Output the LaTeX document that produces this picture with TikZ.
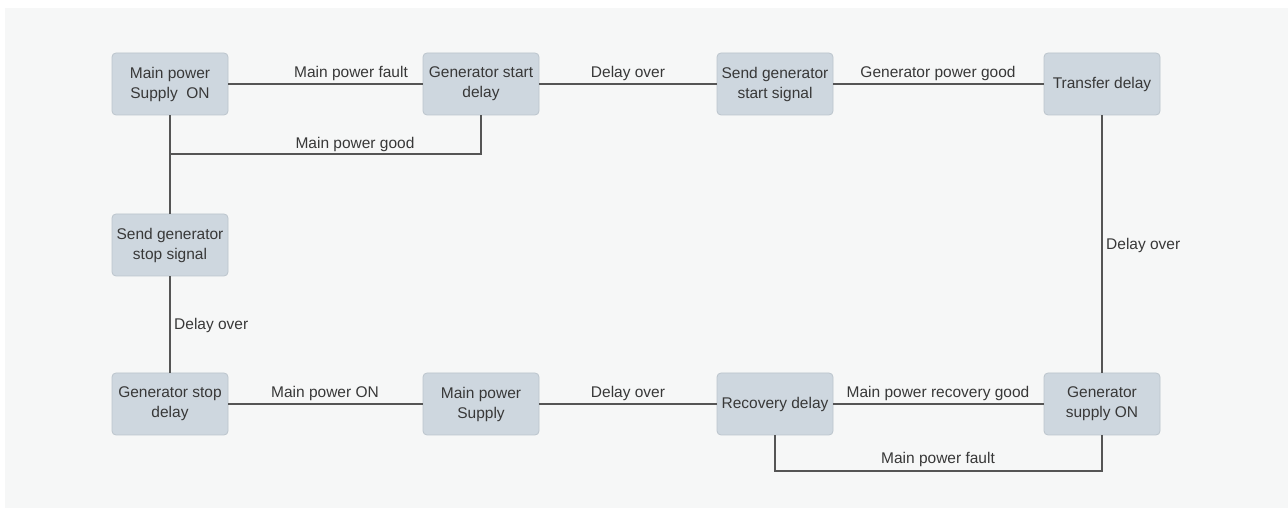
\documentclass[tikz,border=0pt]{standalone}
\usepackage{fontspec}
\setmainfont{Liberation Sans}
\definecolor{bgc}{HTML}{F6F7F7}
\definecolor{boxfill}{HTML}{CED7DF}
\definecolor{boxline}{HTML}{BCC5CD}
\definecolor{linec}{HTML}{555555}
\definecolor{txt}{HTML}{383838}
\begin{document}
\begin{tikzpicture}[x=1pt,y=-1pt,
  stbox/.style={draw=boxline,line width=0.8pt,fill=boxfill,rounded corners=4pt,
    minimum width=116pt,minimum height=62pt,inner sep=1pt,align=center,
    text=txt,font=\fontsize{15.5}{20}\selectfont},
  conn/.style={draw=linec,line width=1.6pt},
  lbl/.style={text=txt,font=\fontsize{15.5}{20}\selectfont,inner sep=0pt,anchor=base}]
\useasboundingbox (0,0) rectangle (1288,510);
\fill[bgc] (5,8) rectangle (1288,508);
% boxes
\node[stbox] (mps) at (170,84) {Main power\\Supply\ \ ON};
\node[stbox] (gsd) at (481,84) {Generator start\\delay};
\node[stbox] (sgs) at (775,84) {Send generator\\start signal};
\node[stbox] (td) at (1102,84) {Transfer delay};
\node[stbox] (stopsig) at (170,245) {Send generator\\stop signal};
\node[stbox] (gstopd) at (170,404) {Generator stop\\delay};
\node[stbox] (mpsup) at (481,404) {Main power\\Supply};
\node[stbox] (rd) at (775,404) {Recovery delay};
\node[stbox] (gso) at (1102,404) {Generator\\supply ON};
\coordinate (g1) at (170,154);
\coordinate (f1) at (775,471);
% connectors
\draw[conn] (mps.east) -- (gsd.west);
\draw[conn] (gsd.east) -- (sgs.west);
\draw[conn] (sgs.east) -- (td.west);
\draw[conn] (td.south) -- (gso.north);
\draw[conn] (gso.west) -- (rd.east);
\draw[conn] (rd.west) -- (mpsup.east);
\draw[conn] (mpsup.west) -- (gstopd.east);
\draw[conn] (gstopd.north) -- (stopsig.south);
\draw[conn] (stopsig.north) -- (mps.south);
\draw[conn] (gsd.south) |- (g1);
\draw[conn] (rd.south) -- (f1) -| (gso.south);
% labels
\node[lbl] (l1) at (351,78) {Main power fault};
\node[lbl] (l2) at (628,78) {Delay over};
\node[lbl] (l3) at (938,78) {Generator power good};
\node[lbl] (l4) at (355,149) {Main power good};
\node[lbl,anchor=base west] (l5) at (1106,250) {Delay over};
\node[lbl,anchor=base west] (l6) at (174,330) {Delay over};
\node[lbl] (l7) at (325,398) {Main power ON};
\node[lbl] (l8) at (628,398) {Delay over};
\node[lbl] (l9) at (938,398) {Main power recovery good};
\node[lbl] (l10) at (938,464) {Main power fault};
\end{tikzpicture}
\end{document}
